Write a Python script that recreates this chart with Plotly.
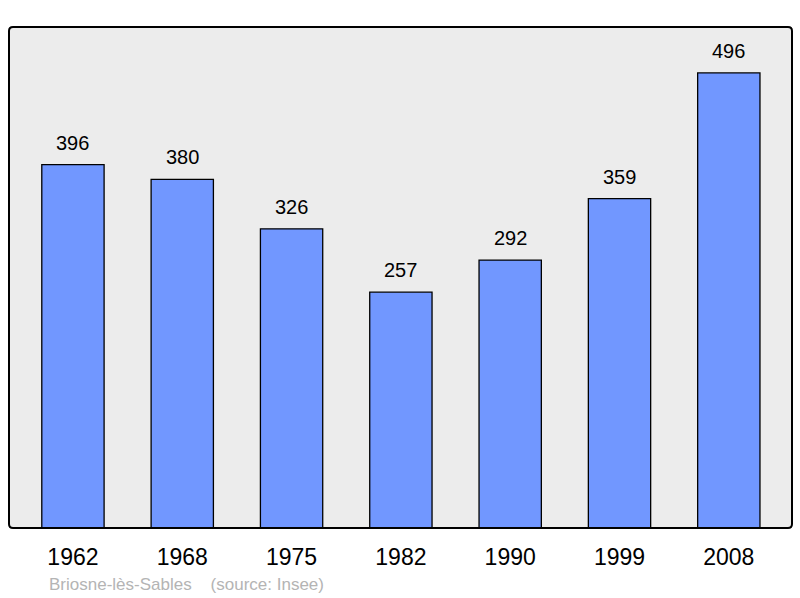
import plotly.graph_objects as go

years = ["1962", "1968", "1975", "1982", "1990", "1999", "2008"]
population = [396, 380, 326, 257, 292, 359, 496]
place = "Briosne-lès-Sables"
source = "(source: Insee)"

BAR_COLOR = "#7197ff"
FONT = "Liberation Sans, Arial, sans-serif"

fig = go.Figure()
fig.add_trace(
    go.Bar(
        x=years,
        y=population,
        width=0.57,
        marker={"color": BAR_COLOR, "line": {"color": "#000000", "width": 1.3}},
        hoverinfo="x+y",
    )
)

# value labels above each bar
for i, value in enumerate(population):
    fig.add_annotation(
        x=i,
        y=value,
        xref="x",
        yref="y",
        text=str(value),
        showarrow=False,
        yanchor="bottom",
        yshift=9,
        font={"family": FONT, "size": 20, "color": "#000000"},
    )

# plot frame with slightly rounded corners (paper coords)
rx, ry = 4 / 783, 4 / 501
frame = (
    f"M {rx},0 L {1 - rx},0 Q 1,0 1,{ry} L 1,{1 - ry} Q 1,1 {1 - rx},1 "
    f"L {rx},1 Q 0,1 0,{1 - ry} L 0,{ry} Q 0,0 {rx},0 Z"
)
fig.add_shape(
    type="path",
    path=frame,
    xref="paper",
    yref="paper",
    line={"color": "#000000", "width": 2},
    layer="above",
)

# footnote, pixel position converted to paper coordinates
fig.add_annotation(
    x=(47 - 9) / 783,
    y=-(584 - 528) / 501,
    xref="paper",
    yref="paper",
    text=f"{place}&nbsp;&nbsp;&nbsp;&nbsp;{source}",
    showarrow=False,
    xanchor="left",
    yanchor="middle",
    font={"family": FONT, "size": 17, "color": "#b4b4b4"},
)

fig.update_xaxes(
    type="category",
    range=[-0.585, 6.578],
    showgrid=False,
    zeroline=False,
    showline=False,
    ticks="",
    ticklabelstandoff=13,
    tickfont={"family": FONT, "size": 23, "color": "#000000"},
)
fig.update_yaxes(
    range=[0, 546],
    showgrid=False,
    zeroline=False,
    showline=False,
    showticklabels=False,
    ticks="",
)
fig.update_layout(
    width=800,
    height=598,
    plot_bgcolor="#ececec",
    paper_bgcolor="#ffffff",
    showlegend=False,
    margin={"l": 9, "r": 8, "t": 27, "b": 70},
    font={"family": FONT},
)

fig.write_html(
    "out.html",
    config={"displayModeBar": False},
    post_script="document.body.style.margin='0';",
)
